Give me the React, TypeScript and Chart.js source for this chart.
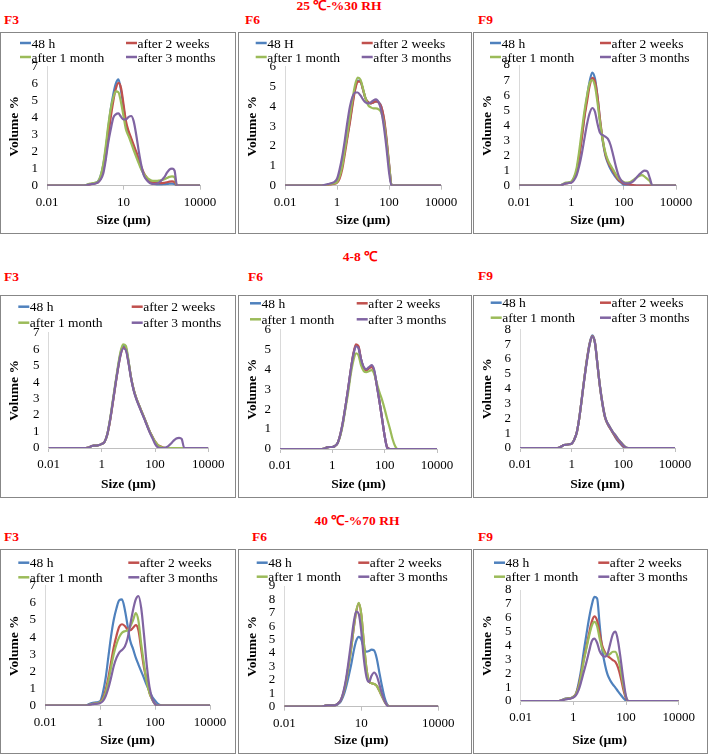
import React, { useEffect, useRef } from "react";
import { Chart, registerables } from "chart.js";

Chart.register(...registerables);

const SERIF = "'Liberation Serif', 'Times New Roman', serif";

// Particle size classes (µm) shared by all distributions
const SIZES_UM = [
  0.01, 0.25, 0.315, 0.4, 0.5, 0.63, 0.8, 1, 1.25, 1.6,
  2, 2.5, 3.15, 4, 5, 6.3, 8, 10, 12.5, 16,
  20, 25, 31.5, 40, 50, 63, 80, 100, 125, 160,
  200, 250, 315, 400, 500, 630, 800, 1000, 1250, 1600,
  10000,
];

const SERIES_NAMES = ["48 h", "after 2 weeks", "after 1 month", "after 3 months"];
const SERIES_NAMES_ALT = ["48 H", "after 2 weeks", "after 1 month", "after 3 months"];
const SERIES_COLORS = ["#4F81BD", "#C0504D", "#9BBB59", "#8064A2"];

const X_TICKS_2 = [0.01, 1, 100, 10000];
const X_TICKS_3 = [0.01, 10, 10000];

const SECTION_TITLES = ["25 \u2103-%30 RH", "4-8 \u2103", "40 \u2103-%70 RH"];

// ---------- 25 °C / 30 % RH ----------
const F3_RT_48H = [
  0, 0, 0.02, 0.06, 0.1, 0.13, 0.17, 0.25, 0.55, 1.2,
  2.1, 3.3, 4.5, 5.4, 6.0, 6.25, 5.6, 4.6, 3.6, 3.1,
  2.7, 2.3, 1.9, 1.45, 1.0, 0.65, 0.4, 0.25, 0.15, 0.1,
  0.08, 0.08, 0.08, 0.09, 0.1, 0.12, 0.12, 0.1, 0, 0,
  0,
];
const F3_RT_2W = [
  0, 0, 0.02, 0.05, 0.08, 0.12, 0.15, 0.2, 0.4, 0.9,
  1.7, 2.8, 4.0, 5.0, 5.7, 6.05, 5.75, 4.8, 3.8, 3.2,
  2.8, 2.4, 2.0, 1.55, 1.1, 0.75, 0.5, 0.32, 0.22, 0.18,
  0.15, 0.15, 0.15, 0.17, 0.2, 0.24, 0.25, 0.22, 0, 0,
  0,
];
const F3_RT_1M = [
  0, 0, 0.03, 0.08, 0.12, 0.15, 0.18, 0.25, 0.55, 1.25,
  2.3, 3.5, 4.5, 5.2, 5.55, 5.5, 4.9, 4.1, 3.3, 2.9,
  2.5, 2.1, 1.7, 1.3, 0.95, 0.7, 0.5, 0.38, 0.3, 0.28,
  0.28, 0.3, 0.33, 0.38, 0.45, 0.52, 0.55, 0.5, 0, 0,
  0,
];
const F3_RT_3M = [
  0, 0, 0.02, 0.05, 0.08, 0.1, 0.13, 0.2, 0.35, 0.7,
  1.5, 2.5, 3.3, 4.0, 4.2, 4.25, 4.05, 3.9, 3.9, 4.05,
  4.1, 3.8, 3.0, 2.0, 1.2, 0.6, 0.35, 0.2, 0.12, 0.1,
  0.12, 0.2, 0.33, 0.5, 0.75, 0.95, 1.0, 0.9, 0, 0,
  0,
];
const F6_RT_48H = [
  0, 0, 0.02, 0.05, 0.08, 0.1, 0.13, 0.2, 0.5, 1.1,
  1.8, 2.5, 3.3, 4.2, 4.9, 5.3, 5.25, 4.85, 4.4, 4.2,
  4.15, 4.2, 4.25, 4.2, 4.0, 3.4, 2.3, 1.1, 0.05, 0,
  0, 0, 0, 0, 0, 0, 0, 0, 0, 0,
  0,
];
const F6_RT_2W = [
  0, 0, 0.01, 0.03, 0.05, 0.07, 0.1, 0.15, 0.35, 0.85,
  1.6, 2.4, 3.2, 4.1, 4.85, 5.25, 5.25, 4.85, 4.4, 4.2,
  4.15, 4.2, 4.25, 4.2, 4.0, 3.45, 2.4, 1.15, 0.05, 0,
  0, 0, 0, 0, 0, 0, 0, 0, 0, 0,
  0,
];
const F6_RT_1M = [
  0, 0, 0.02, 0.04, 0.07, 0.1, 0.12, 0.18, 0.45, 1.0,
  1.8, 2.6, 3.5, 4.4, 5.1, 5.45, 5.35, 4.9, 4.4, 4.05,
  3.95, 3.9, 3.9, 3.85, 3.7, 3.2, 2.2, 1.05, 0.05, 0,
  0, 0, 0, 0, 0, 0, 0, 0, 0, 0,
  0,
];
const F6_RT_3M = [
  0, 0, 0.03, 0.06, 0.1, 0.14, 0.2, 0.35, 0.8, 1.5,
  2.3, 3.2, 4.0, 4.5, 4.7, 4.7, 4.55, 4.35, 4.2, 4.15,
  4.2, 4.3, 4.35, 4.2, 3.8, 3.0, 1.9, 0.7, 0, 0,
  0, 0, 0, 0, 0, 0, 0, 0, 0, 0,
  0,
];
const F9_RT_48H = [
  0, 0, 0, 0.03, 0.12, 0.18, 0.2, 0.25, 0.5, 1.0,
  2.0, 3.2, 4.6, 5.9, 6.9, 7.5, 7.1, 5.9, 4.3, 2.9,
  2.0, 1.5, 1.1, 0.8, 0.55, 0.35, 0.2, 0.05, 0, 0,
  0, 0, 0, 0, 0, 0, 0, 0, 0, 0,
  0,
];
const F9_RT_2W = [
  0, 0, 0, 0.03, 0.1, 0.15, 0.18, 0.22, 0.45, 0.95,
  1.9, 3.1, 4.5, 5.6, 6.6, 7.15, 6.9, 5.9, 4.4, 3.0,
  2.1, 1.6, 1.25, 0.95, 0.65, 0.4, 0.25, 0.15, 0.1, 0.08,
  0.06, 0.03, 0, 0, 0, 0, 0, 0, 0, 0,
  0,
];
const F9_RT_1M = [
  0, 0, 0, 0.04, 0.13, 0.2, 0.22, 0.28, 0.55, 1.2,
  2.3, 3.6, 4.9, 6.0, 6.8, 7.0, 6.6, 5.5, 4.2, 3.0,
  2.2, 1.7, 1.35, 1.05, 0.75, 0.5, 0.35, 0.25, 0.2, 0.22,
  0.3, 0.42, 0.55, 0.65, 0.7, 0.6, 0.45, 0.3, 0, 0,
  0,
];
const F9_RT_3M = [
  0, 0, 0, 0.03, 0.1, 0.15, 0.18, 0.2, 0.35, 0.7,
  1.3, 2.1, 3.1, 4.1, 4.8, 5.15, 4.9, 4.1, 3.5, 3.35,
  3.25, 3.1, 2.7, 2.0, 1.3, 0.7, 0.35, 0.2, 0.15, 0.15,
  0.22, 0.35, 0.55, 0.75, 0.9, 1.0, 0.95, 0.5, 0, 0,
  0,
];

// ---------- 4-8 °C ----------
const F3_FR_48H = [
  0, 0, 0.02, 0.1, 0.15, 0.15, 0.18, 0.25, 0.35, 0.8,
  1.6, 2.6, 3.7, 4.8, 5.7, 6.2, 6.1, 5.3, 4.3, 3.5,
  3.0, 2.6, 2.2, 1.8, 1.4, 1.0, 0.65, 0.35, 0.15, 0.05,
  0, 0, 0, 0, 0, 0, 0, 0, 0, 0,
  0,
];
const F3_FR_2W = [
  0, 0, 0.02, 0.1, 0.15, 0.15, 0.18, 0.25, 0.35, 0.8,
  1.55, 2.55, 3.65, 4.75, 5.6, 6.1, 6.0, 5.25, 4.3, 3.5,
  3.0, 2.6, 2.2, 1.8, 1.4, 1.0, 0.68, 0.4, 0.2, 0.1,
  0.03, 0, 0, 0, 0, 0, 0, 0, 0, 0,
  0,
];
const F3_FR_1M = [
  0, 0, 0.02, 0.1, 0.15, 0.15, 0.18, 0.25, 0.35, 0.8,
  1.65, 2.7, 3.8, 4.9, 5.8, 6.3, 6.2, 5.35, 4.3, 3.5,
  3.0, 2.6, 2.2, 1.8, 1.4, 1.0, 0.68, 0.4, 0.2, 0.08,
  0.02, 0, 0, 0, 0, 0, 0, 0, 0, 0,
  0,
];
const F3_FR_3M = [
  0, 0, 0.02, 0.1, 0.15, 0.15, 0.18, 0.25, 0.35, 0.8,
  1.6, 2.6, 3.7, 4.75, 5.6, 6.05, 5.95, 5.2, 4.25, 3.45,
  2.95, 2.55, 2.15, 1.75, 1.35, 0.95, 0.6, 0.25, 0.05, 0,
  0, 0.03, 0.12, 0.27, 0.45, 0.58, 0.62, 0.55, 0, 0,
  0,
];
const F6_FR_48H = [
  0, 0, 0, 0, 0.02, 0.08, 0.1, 0.1, 0.15, 0.3,
  0.7, 1.3, 2.1, 3.0, 3.9, 4.7, 5.2, 5.1, 4.5, 4.05,
  3.95, 4.05, 4.15, 3.9, 3.2, 2.4, 1.5, 0.65, 0.08, 0,
  0, 0, 0, 0, 0, 0, 0, 0, 0, 0,
  0,
];
const F6_FR_2W = [
  0, 0, 0, 0, 0.02, 0.08, 0.1, 0.1, 0.15, 0.3,
  0.7, 1.3, 2.1, 3.0, 3.9, 4.75, 5.25, 5.15, 4.5, 4.05,
  3.95, 4.05, 4.1, 3.85, 3.2, 2.4, 1.5, 0.65, 0.08, 0,
  0, 0, 0, 0, 0, 0, 0, 0, 0, 0,
  0,
];
const F6_FR_1M = [
  0, 0, 0, 0, 0.02, 0.08, 0.1, 0.1, 0.15, 0.3,
  0.65, 1.2, 2.0, 2.8, 3.7, 4.4, 4.8, 4.7, 4.2, 3.9,
  3.85, 3.9, 3.95, 3.75, 3.3, 2.85, 2.45, 2.0, 1.5, 1.0,
  0.5, 0.15, 0, 0, 0, 0, 0, 0, 0, 0,
  0,
];
const F6_FR_3M = [
  0, 0, 0, 0, 0.02, 0.08, 0.1, 0.1, 0.15, 0.3,
  0.7, 1.3, 2.1, 3.0, 3.9, 4.7, 5.15, 5.05, 4.5, 4.1,
  4.0, 4.1, 4.2, 3.95, 3.2, 2.4, 1.5, 0.65, 0.05, 0,
  0, 0, 0, 0, 0, 0, 0, 0, 0, 0,
  0,
];
const F9_FR_48H = [
  0, 0, 0.02, 0.1, 0.2, 0.22, 0.25, 0.3, 0.55, 1.1,
  2.1, 3.4, 4.8, 6.1, 7.1, 7.6, 7.1, 5.6, 4.1, 2.8,
  2.0, 1.6, 1.3, 1.0, 0.7, 0.45, 0.25, 0.08, 0, 0,
  0, 0, 0, 0, 0, 0, 0, 0, 0, 0,
  0,
];
const F9_FR_2W = [
  0, 0, 0.02, 0.1, 0.2, 0.22, 0.25, 0.3, 0.55, 1.1,
  2.1, 3.4, 4.8, 6.1, 7.05, 7.55, 7.1, 5.6, 4.1, 2.85,
  2.0, 1.6, 1.3, 1.0, 0.75, 0.5, 0.3, 0.12, 0.02, 0,
  0, 0, 0, 0, 0, 0, 0, 0, 0, 0,
  0,
];
const F9_FR_1M = [
  0, 0, 0.02, 0.1, 0.2, 0.22, 0.25, 0.3, 0.55, 1.1,
  2.1, 3.4, 4.8, 6.05, 7.0, 7.5, 7.05, 5.6, 4.15, 2.9,
  2.05, 1.65, 1.35, 1.05, 0.85, 0.6, 0.4, 0.2, 0.05, 0,
  0, 0, 0, 0, 0, 0, 0, 0, 0, 0,
  0,
];
const F9_FR_3M = [
  0, 0, 0.02, 0.1, 0.2, 0.22, 0.25, 0.3, 0.55, 1.1,
  2.1, 3.4, 4.75, 6.0, 7.0, 7.5, 7.05, 5.6, 4.15, 2.9,
  2.05, 1.65, 1.35, 1.05, 0.85, 0.6, 0.38, 0.18, 0.04, 0,
  0, 0, 0, 0, 0, 0, 0, 0, 0, 0,
  0,
];

// ---------- 40 °C / 70 % RH ----------
const F3_HT_48H = [
  0, 0, 0.02, 0.1, 0.15, 0.18, 0.2, 0.25, 0.7, 1.6,
  2.8, 4.0, 5.0, 5.7, 6.15, 6.2, 5.6, 4.7, 3.8, 3.3,
  2.8, 2.4, 2.0, 1.6, 1.2, 0.85, 0.5, 0.3, 0.12, 0.03,
  0, 0, 0, 0, 0, 0, 0, 0, 0, 0,
  0,
];
const F3_HT_2W = [
  0, 0, 0.01, 0.05, 0.1, 0.12, 0.15, 0.2, 0.4, 0.9,
  1.6, 2.5, 3.4, 4.1, 4.6, 4.75, 4.65, 4.45, 4.4, 4.55,
  4.7, 4.4, 3.3, 2.2, 1.5, 0.75, 0.35, 0.1, 0, 0,
  0, 0, 0, 0, 0, 0, 0, 0, 0, 0,
  0,
];
const F3_HT_1M = [
  0, 0, 0.01, 0.05, 0.1, 0.12, 0.15, 0.2, 0.35, 0.75,
  1.4, 2.2, 3.0, 3.6, 4.0, 4.25, 4.35, 4.4, 4.6, 5.0,
  5.4, 4.95, 3.6, 2.4, 1.4, 0.75, 0.35, 0.1, 0, 0,
  0, 0, 0, 0, 0, 0, 0, 0, 0, 0,
  0,
];
const F3_HT_3M = [
  0, 0, 0.01, 0.04, 0.08, 0.1, 0.12, 0.15, 0.25, 0.55,
  1.0, 1.6, 2.3, 2.8, 3.1, 3.25, 3.45, 3.9, 4.7, 5.6,
  6.2, 6.4, 5.7, 4.1, 2.4, 1.1, 0.4, 0.1, 0, 0,
  0, 0, 0, 0, 0, 0, 0, 0, 0, 0,
  0,
];
const F6_HT_48H = [
  0, 0, 0.02, 0.08, 0.1, 0.1, 0.1, 0.12, 0.2, 0.4,
  0.8, 1.4, 2.2, 3.1, 4.1, 4.9, 5.2, 5.0, 4.4, 4.1,
  4.15, 4.25, 4.2, 3.6, 2.6, 1.6, 0.7, 0.2, 0, 0,
  0, 0, 0, 0, 0, 0, 0, 0, 0, 0,
  0,
];
const F6_HT_2W = [
  0, 0, 0.02, 0.08, 0.1, 0.1, 0.1, 0.12, 0.25, 0.5,
  1.0, 1.8, 3.0, 4.3, 5.75, 7.05, 7.7, 6.85, 4.8, 2.8,
  1.9, 1.75, 1.7, 1.55, 1.2, 0.8, 0.4, 0.12, 0.02, 0,
  0, 0, 0, 0, 0, 0, 0, 0, 0, 0,
  0,
];
const F6_HT_1M = [
  0, 0, 0.02, 0.08, 0.1, 0.1, 0.1, 0.12, 0.25, 0.5,
  1.0, 1.8, 3.0, 4.3, 5.8, 7.1, 7.75, 6.9, 4.8, 2.8,
  1.9, 1.75, 1.7, 1.55, 1.2, 0.8, 0.4, 0.12, 0.02, 0,
  0, 0, 0, 0, 0, 0, 0, 0, 0, 0,
  0,
];
const F6_HT_3M = [
  0, 0, 0.02, 0.08, 0.1, 0.1, 0.1, 0.12, 0.25, 0.5,
  1.1, 2.0, 3.3, 4.8, 6.2, 7.1, 6.9, 5.6, 3.6, 2.2,
  1.85, 2.3, 2.55, 2.3, 1.7, 1.0, 0.45, 0.1, 0, 0,
  0, 0, 0, 0, 0, 0, 0, 0, 0, 0,
  0,
];
const F9_HT_48H = [
  0, 0, 0.02, 0.1, 0.18, 0.2, 0.22, 0.3, 0.5, 1.3,
  2.3, 3.6, 4.8, 6.0, 6.9, 7.5, 7.4, 5.5, 3.7, 2.6,
  1.9, 1.5, 1.2, 0.95, 0.7, 0.45, 0.2, 0.03, 0, 0,
  0, 0, 0, 0, 0, 0, 0, 0, 0, 0,
  0,
];
const F9_HT_2W = [
  0, 0, 0.02, 0.08, 0.15, 0.18, 0.2, 0.3, 0.5, 1.1,
  2.0, 3.0, 3.9, 4.9, 5.7, 6.1, 5.8, 4.9, 4.0, 3.5,
  3.25, 3.1, 2.95, 2.8, 2.4, 1.7, 0.8, 0.2, 0, 0,
  0, 0, 0, 0, 0, 0, 0, 0, 0, 0,
  0,
];
const F9_HT_1M = [
  0, 0, 0.02, 0.08, 0.15, 0.18, 0.2, 0.3, 0.5, 1.0,
  1.9, 2.9, 3.8, 4.7, 5.4, 5.7, 5.4, 4.5, 3.8, 3.4,
  3.3, 3.4, 3.55, 3.55, 3.1, 2.2, 1.1, 0.3, 0, 0,
  0, 0, 0, 0, 0, 0, 0, 0, 0, 0,
  0,
];
const F9_HT_3M = [
  0, 0, 0.02, 0.06, 0.12, 0.15, 0.18, 0.25, 0.4, 0.8,
  1.4, 2.1, 2.8, 3.6, 4.3, 4.5, 4.2, 3.6, 3.3, 3.2,
  3.4, 4.1, 4.8, 5.0, 4.3, 3.0, 1.5, 0.35, 0, 0,
  0, 0, 0, 0, 0, 0, 0, 0, 0, 0,
  0,
];

// ---------- layout (positions only) ----------
const COLS = [
  { left: 0, width: 236 },
  { left: 238, width: 234 },
  { left: 473, width: 235 },
];
const ROWS = [
  { top: 32, height: 202 },
  { top: 295, height: 203 },
  { top: 549, height: 205 },
];
const TITLE_POS = [
  { cx: 339, cy: 6 },
  { cx: 360, cy: 257 },
  { cx: 357, cy: 521 },
];

type PanelCfg = {
  label: string;
  row: number;
  col: number;
  labelX: number;
  labelY: number;
  series: number[][];
  names: string[];
  yMax: number;
  xTicks: number[];
  area: number[];
  legendX: number[];
  legendY: number[];
};

const PANELS: PanelCfg[] = [
  { label: "F3", row: 0, col: 0, labelX: 4, labelY: 20, series: [F3_RT_48H, F3_RT_2W, F3_RT_1M, F3_RT_3M], names: SERIES_NAMES, yMax: 7, xTicks: X_TICKS_3, area: [46, 33.7, 199, 152.7], legendX: [19, 125], legendY: [10, 24] },
  { label: "F6", row: 0, col: 1, labelX: 245, labelY: 20, series: [F6_RT_48H, F6_RT_2W, F6_RT_1M, F6_RT_3M], names: SERIES_NAMES_ALT, yMax: 6, xTicks: X_TICKS_2, area: [46, 33.7, 202, 152.7], legendX: [16.7, 122.7], legendY: [10, 24] },
  { label: "F9", row: 0, col: 2, labelX: 478, labelY: 20, series: [F9_RT_48H, F9_RT_2W, F9_RT_1M, F9_RT_3M], names: SERIES_NAMES, yMax: 8, xTicks: X_TICKS_2, area: [45, 32, 202, 152.7], legendX: [16, 126], legendY: [10, 24] },
  { label: "F3", row: 1, col: 0, labelX: 4, labelY: 277, series: [F3_FR_48H, F3_FR_2W, F3_FR_1M, F3_FR_3M], names: SERIES_NAMES, yMax: 7, xTicks: X_TICKS_2, area: [47.5, 36.7, 207.3, 152], legendX: [17.3, 130.7], legendY: [10.7, 26.7] },
  { label: "F6", row: 1, col: 1, labelX: 248, labelY: 277, series: [F6_FR_48H, F6_FR_2W, F6_FR_1M, F6_FR_3M], names: SERIES_NAMES, yMax: 6, xTicks: X_TICKS_2, area: [41, 33.3, 198, 153], legendX: [11, 117.7], legendY: [7.3, 23.3] },
  { label: "F9", row: 1, col: 2, labelX: 478, labelY: 276, series: [F9_FR_48H, F9_FR_2W, F9_FR_1M, F9_FR_3M], names: SERIES_NAMES, yMax: 8, xTicks: X_TICKS_2, area: [46, 33.3, 201, 152], legendX: [16.7, 126], legendY: [6.7, 21.7] },
  { label: "F3", row: 2, col: 0, labelX: 4, labelY: 537, series: [F3_HT_48H, F3_HT_2W, F3_HT_1M, F3_HT_3M], names: SERIES_NAMES, yMax: 7, xTicks: X_TICKS_2, area: [44, 35.7, 209, 155.7], legendX: [17.3, 127.3], legendY: [12.7, 27.3] },
  { label: "F6", row: 2, col: 1, labelX: 252, labelY: 537, series: [F6_HT_48H, F6_HT_2W, F6_HT_1M, F6_HT_3M], names: SERIES_NAMES, yMax: 9, xTicks: X_TICKS_3, area: [45.3, 36, 199.3, 156.7], legendX: [17.7, 119.3], legendY: [12.7, 26.7] },
  { label: "F9", row: 2, col: 2, labelX: 478, labelY: 537, series: [F9_HT_48H, F9_HT_2W, F9_HT_1M, F9_HT_3M], names: SERIES_NAMES, yMax: 8, xTicks: X_TICKS_2, area: [46.6, 40, 204.7, 151], legendX: [20, 124.3], legendY: [12.7, 26.7] },
];

function Panel({ cfg }: { cfg: PanelCfg }) {
  const ref = useRef<HTMLCanvasElement | null>(null);
  const col = COLS[cfg.col];
  const row = ROWS[cfg.row];
  const W = col.width - 2;
  const H = row.height - 2;

  useEffect(() => {
    if (!ref.current) return;
    const [aL, aT, aR, aB] = cfg.area;
    const legendPlugin = {
      id: "panelLegend",
      afterDraw(chart: any) {
        const ctx = chart.ctx;
        ctx.save();
        ctx.font = `13.5px ${SERIF}`;
        ctx.textBaseline = "middle";
        ctx.textAlign = "left";
        cfg.names.forEach((name, i) => {
          const x = cfg.legendX[i % 2];
          const y = cfg.legendY[Math.floor(i / 2)];
          ctx.strokeStyle = SERIES_COLORS[i];
          ctx.lineWidth = 2.5;
          ctx.beginPath();
          ctx.moveTo(x, y);
          ctx.lineTo(x + 11, y);
          ctx.stroke();
          ctx.fillStyle = "#000";
          ctx.fillText(name, x + 11.5, y + 1);
        });
        ctx.restore();
      },
    };
    const chart = new Chart(ref.current, {
      type: "line",
      data: {
        datasets: cfg.series.map((vals, i) => ({
          label: cfg.names[i],
          data: SIZES_UM.map((x, j) => ({ x, y: vals[j] })),
          borderColor: SERIES_COLORS[i],
          backgroundColor: SERIES_COLORS[i],
          borderWidth: 2.2,
          pointRadius: 0,
          fill: false,
          cubicInterpolationMode: "monotone" as const,
          order: 3 - i,
        })),
      },
      options: {
        animation: false,
        responsive: false,
        maintainAspectRatio: false,
        layout: { padding: { left: 0, top: aT, right: W - aR, bottom: 0 } },
        plugins: { legend: { display: false }, tooltip: { enabled: false } },
        scales: {
          x: {
            type: "logarithmic",
            min: 0.01,
            max: 10000,
            afterBuildTicks: (s: any) => {
              s.ticks = cfg.xTicks.map((v) => ({ value: v }));
            },
            afterFit: (s: any) => {
              s.height = H - aB;
            },
            ticks: {
              autoSkip: false,
              maxRotation: 0,
              padding: 5,
              color: "#000",
              font: { family: SERIF, size: 13 },
              callback: (v: any) => String(v),
            },
            grid: { drawOnChartArea: false, drawTicks: true, tickLength: 4, color: "#bfbfbf" },
            border: { display: true, color: "#bfbfbf" },
            title: {
              display: true,
              text: "Size (\u00b5m)",
              color: "#000",
              font: { family: SERIF, size: 13.5, weight: "bold" },
              padding: { top: 0, bottom: 4.5 },
            },
          },
          y: {
            type: "linear",
            min: 0,
            max: cfg.yMax,
            afterFit: (s: any) => {
              s.width = aL;
            },
            ticks: {
              stepSize: 1,
              autoSkip: false,
              padding: 9,
              color: "#000",
              font: { family: SERIF, size: 13 },
            },
            grid: { display: false, drawTicks: false },
            border: { display: true, color: "#d9d9d9" },
            title: {
              display: true,
              text: "Volume %",
              color: "#000",
              font: { family: SERIF, size: 13.5, weight: "bold" },
              padding: { top: 5, bottom: 0 },
            },
          },
        },
      } as any,
      plugins: [legendPlugin],
    });
    return () => chart.destroy();
  }, [cfg]);

  return (
    <>
      <div
        style={{
          position: "absolute",
          left: cfg.labelX,
          top: cfg.labelY - 8,
          lineHeight: "16px",
          fontFamily: SERIF,
          fontWeight: "bold",
          fontSize: 13.5,
          color: "#ff0000",
          whiteSpace: "nowrap",
        }}
      >
        {cfg.label}
      </div>
      <div
        style={{
          position: "absolute",
          left: col.left,
          top: row.top,
          width: col.width,
          height: row.height,
          boxSizing: "border-box",
          border: "1px solid #878787",
          background: "#fff",
        }}
      >
        <canvas ref={ref} width={W} height={H} style={{ display: "block", width: W, height: H }} />
      </div>
    </>
  );
}

export default function App() {
  return (
    <div
      style={{
        position: "absolute",
        left: 0,
        top: 0,
        width: 708,
        height: 754,
        background: "#fff",
        overflow: "hidden",
      }}
    >
      {SECTION_TITLES.map((t, i) => (
        <div
          key={t}
          style={{
            position: "absolute",
            left: TITLE_POS[i].cx - 100,
            top: TITLE_POS[i].cy - 8,
            width: 200,
            lineHeight: "16px",
            textAlign: "center",
            fontFamily: SERIF,
            fontWeight: "bold",
            fontSize: 13.5,
            color: "#ff0000",
            whiteSpace: "nowrap",
          }}
        >
          {t}
        </div>
      ))}
      {PANELS.map((p) => (
        <Panel key={`${p.row}-${p.col}`} cfg={p} />
      ))}
    </div>
  );
}
